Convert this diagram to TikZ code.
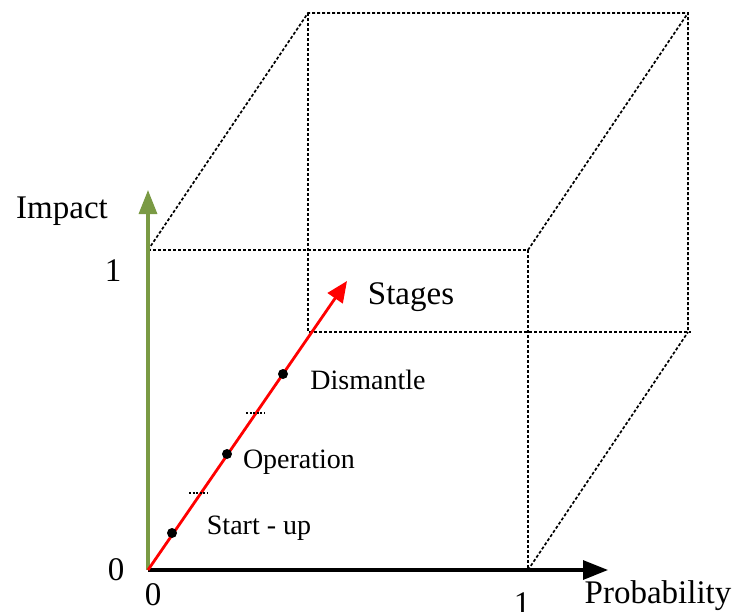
\documentclass[tikz,border=0pt]{standalone}
\usepackage{fontspec}
\setmainfont{Liberation Serif}
\usetikzlibrary{arrows.meta}
\definecolor{axisgreen}{RGB}{122,154,68}
\tikzset{
  edge/.style={line width=1.7pt, dash pattern=on 3pt off 2pt},
  tickdots/.style={line width=1.3pt, dash pattern=on 2pt off 1.6pt},
  axislabel/.style={font=\fontsize{33}{36}\selectfont, inner sep=0pt},
  stagelabel/.style={font=\fontsize{28}{32}\selectfont, inner sep=0pt},
  stagedot/.style={circle, fill=black, inner sep=0pt, minimum size=10pt},
}
\begin{document}
\begin{tikzpicture}[x=1pt,y=-1pt]
\useasboundingbox (0,0) rectangle (734,611);
% cube corners
\coordinate (O)  at (148,570);
\coordinate (FR) at (528,570);
\coordinate (FT) at (148,250);
\coordinate (FTR) at (528,250);
\coordinate (BTL) at (308,13);
\coordinate (BTR) at (688,13);
\coordinate (BBL) at (308,332);
\coordinate (BBR) at (688,332);
\coordinate (BBE) at (691,332);
\coordinate (Ptip) at (608,570);
\coordinate (Itip) at (148,190);
\coordinate (Stip) at (347,281);
% dotted cube edges
\draw[edge] (FT) -- (FTR) -- (FR);
\draw[edge] (FT) -- (BTL) -- (BTR) -- (BBR);
\draw[edge] (FTR) -- (BTR);
\draw[edge] (BTL) -- (BBL) -- (BBE);
\draw[edge] (FR) -- (BBR);
% axes
\draw[axisgreen, line width=3.2pt, -{Triangle[length=24pt,width=18pt]}] (O) -- (Itip);
\draw[black, line width=3.2pt, -{Triangle[length=25pt,width=19pt]}] (O) -- (Ptip);
\draw[red, line width=2.8pt, -{Triangle[length=21pt,width=18pt]}] (O) -- (Stip);
% stage markers
\node[stagedot] (s1) at (172,533) {};
\node[stagedot] (s2) at (227,454) {};
\node[stagedot] (s3) at (283,374) {};
\coordinate (d1a) at (189,493); \coordinate (d1b) at (208,493);
\coordinate (d2a) at (246,413); \coordinate (d2b) at (265,413);
\draw[tickdots] (d1a) -- (d1b);
\draw[tickdots] (d2a) -- (d2b);
% labels
\node[axislabel] (limpact) at (62,211) {Impact};
\node[axislabel] (lone) at (113,271) {1};
\node[axislabel] (lzero) at (116,570) {0};
\node[axislabel] (lzerob) at (153,595) {0};
\node[axislabel] (loneb) at (522,604) {1};
\node[axislabel] (lprob) at (658,596) {Probability};
\node[axislabel] (lstages) at (411,297) {Stages};
\node[stagelabel] (ldis) at (368,380) {Dismantle};
\node[stagelabel] (lop) at (299,462) {Operation};
\node[stagelabel] (lsu) at (259,528) {Start - up};
\end{tikzpicture}
\end{document}
